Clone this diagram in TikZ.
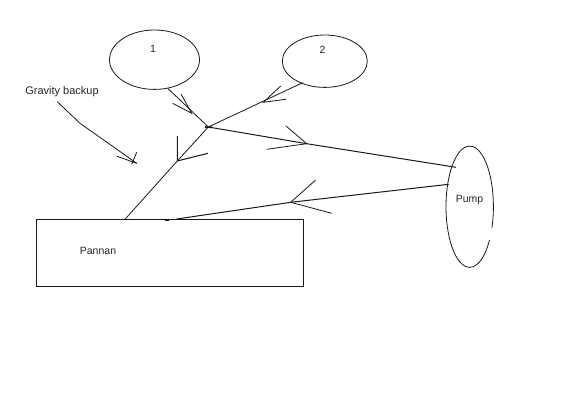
\documentclass[tikz,border=0pt]{standalone}
\usepackage{fontspec}
\setmainfont{Liberation Sans}
\usetikzlibrary{shapes.geometric}
\tikzset{
  x=1pt,y=-1pt,
  pipe/.style={draw=black!90,line width=1pt},
  thin pipe/.style={draw=black!90,line width=0.8pt},
  blob/.style={ellipse,draw=black!90,line width=0.8pt,inner sep=0pt},
  tag/.style={font=\fontsize{10.5}{12}\selectfont,text=black!85,inner sep=0pt,anchor=center},
}
\begin{document}
\begin{tikzpicture}
\useasboundingbox (0,0) rectangle (565,414);
\fill[white] (0,0) rectangle (565,414);
% vessels
\node[blob,minimum width=90pt,minimum height=59.4pt] (one) at (154.5,59.7) {};
\node[blob,minimum width=85pt,minimum height=52.4pt] (two) at (324.8,61.2) {};
\node[draw=black!90,line width=0.9pt,minimum width=267pt,minimum height=67pt,inner sep=0pt] (pannan) at (169.8,252.8) {};
\draw[black!90,line width=0.8pt] (469.7,206.7) ++(-20.2:23.7pt and 60.7pt) arc[start angle=-20.2,end angle=326.7,x radius=23.7pt,y radius=60.7pt];
% labels
\node[tag] (l1) at (153,48.5) {1};
\node[tag] (l2) at (322.5,49.5) {2};
\node[tag,font=\fontsize{11}{12}\selectfont] (lg) at (62,91.5) {Gravity backup};
\node[tag] (lp) at (98,250.5) {Pannan};
\node[tag] (pump) at (469.5,200) {Pump};
% points
\coordinate (j) at (208.3,127);
\coordinate (s1) at (167.7,88.3);
\coordinate (s2) at (302.7,82.7);
\coordinate (t1) at (191.7,113.3);
\coordinate (b1a) at (181,94);
\coordinate (b1b) at (172.7,103.3);
\coordinate (t2) at (263.3,102.3);
\coordinate (b2a) at (280.7,86);
\coordinate (b2b) at (286,99.3);
\coordinate (t3) at (306.7,143.7);
\coordinate (b3a) at (286,126);
\coordinate (b3b) at (266.7,149.3);
\coordinate (pin) at (456,167.3);
\coordinate (t4) at (177.3,161);
\coordinate (b4a) at (177.3,136);
\coordinate (b4b) at (208,153.3);
\coordinate (pan) at (125,219.3);
\coordinate (pout) at (448.7,184.3);
\coordinate (t5) at (290.7,202.3);
\coordinate (b5a) at (315.7,180);
\coordinate (b5b) at (331.7,213.3);
\coordinate (ret) at (176.7,219);
\coordinate (dot1) at (165,220);
\coordinate (dot2) at (169,220);
\coordinate (g0) at (57.3,101.7);
\coordinate (g1) at (80,123.3);
\coordinate (g2) at (136.7,163.3);
\coordinate (g3) at (136.7,152.3);
\coordinate (g4) at (131.7,164.3);
\coordinate (g5) at (117,156.3);
\coordinate (j1) at (205,127);
\coordinate (j2) at (212,127.3);
% connectors
\draw[thin pipe] (s1) -- (j);
\draw[thin pipe] (s2) -- (j);
\draw[pipe] (j) -- (t3) -- (pin);
\draw[thin pipe] (j) -- (t4) -- (pan);
\draw[pipe] (pout) -- (t5) -- (ret);
\draw[line width=1.6pt,black!90] (j1) -- (j2);
\draw[line width=1.4pt,black!90] (dot1) -- (dot2);
% arrow barbs
\draw[thin pipe] (b1a) -- (t1) -- (b1b);
\draw[thin pipe] (b2a) -- (t2) -- (b2b);
\draw[thin pipe] (b3a) -- (t3) -- (b3b);
\draw[pipe] (b4a) -- (t4) -- (b4b);
\draw[thin pipe] (b5a) -- (t5) -- (b5b);
% gravity backup pointer
\draw[thin pipe] (g0) -- (g1) -- (g2);
\draw[thin pipe] (g5) -- (g2);
\draw[thin pipe] (g3) -- (g4);
\end{tikzpicture}
\end{document}
